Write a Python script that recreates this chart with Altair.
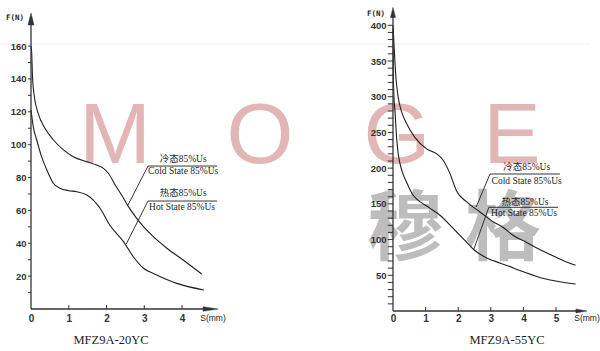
import altair as alt
import pandas as pd

# ---------------- data ----------------
# Left panel: MFZ9A-20YC   (S in mm, F in N)
L_COLD_S = [0.0, 0.02, 0.04, 0.09, 0.19, 0.37, 0.59, 0.86, 1.12, 1.48, 1.74, 1.92, 2.05, 2.23, 2.40, 2.58, 2.80, 2.98, 3.24, 3.60, 4.03, 4.52]
L_COLD_F = [160, 155, 141, 129, 119, 110, 103, 96.8, 92.7, 89.6, 87.6, 85.6, 82.6, 75.5, 69.4, 62.3, 55.2, 50.1, 44.0, 37.0, 29.8, 21.3]
L_HOT_S = [0.0, 0.06, 0.15, 0.28, 0.42, 0.50, 0.59, 0.77, 1.00, 1.21, 1.48, 1.65, 1.83, 2.09, 2.45, 2.71, 2.98, 3.33, 3.86, 4.58]
L_HOT_F = [121, 111, 103, 92.7, 84.6, 80.5, 76.5, 73.5, 72.0, 71.4, 69.4, 66.3, 61.3, 51.0, 41.0, 31.8, 24.8, 20.7, 15.6, 11.6]

# Right panel: MFZ9A-55YC
R_COLD_S = [0.0, 0.04, 0.09, 0.16, 0.27, 0.42, 0.67, 1.03, 1.34, 1.54, 1.75, 1.95, 2.25, 2.66, 3.07, 3.38, 3.68, 4.10, 4.50, 4.92, 5.30, 5.60]
R_COLD_F = [400, 365, 327, 299, 278, 262, 243, 227, 220, 211, 192, 168, 153, 139, 125, 117, 106, 96, 86, 77, 69, 64]
R_HOT_S = [0.0, 0.01, 0.03, 0.06, 0.11, 0.16, 0.27, 0.42, 0.62, 0.72, 1.13, 1.44, 1.84, 2.24, 2.50, 2.80, 3.07, 3.49, 4.00, 4.50, 5.00, 5.60]
R_HOT_F = [395, 330, 300, 281, 243, 220, 197, 180, 162, 157, 144, 134, 116, 97, 85, 76, 70.6, 63.7, 55, 47, 42, 37.7]

L_X_TICKS = [0, 1, 2, 3, 4]
L_Y_LABELS = [20, 40, 60, 80, 100, 120, 140, 160]
L_Y_TICKS = list(range(10, 161, 10))
R_X_TICKS = [0, 1, 2, 3, 4, 5]
R_Y_LABELS = [50, 100, 150, 200, 250, 300, 350, 400]
R_Y_TICKS = list(range(10, 401, 10))

ANNOT_TEXT = ["冷态85%Us", "Cold State 85%Us", "热态85%Us", "Hot State 85%Us"]
L_TEXT_S = [4.03, 4.03, 4.03, 4.00]
L_TEXT_F = [91.3, 83.7, 70.3, 62.1]
R_TEXT_S = [4.10, 4.10, 4.05, 4.02]
R_TEXT_F = [201.2, 182.0, 153.0, 136.8]

# underlines and leader lines (start s, start F, end s, end F)
L_SEG_S1 = [3.10, 3.10, 3.10, 3.10]
L_SEG_F1 = [87.0, 65.7, 87.0, 65.7]
L_SEG_S2 = [4.93, 4.93, 2.56, 2.52]
L_SEG_F2 = [87.0, 65.7, 62.9, 39.4]
R_SEG_S1 = [2.975, 2.94, 2.975, 2.94]
R_SEG_F1 = [191.8, 145.2, 191.8, 145.2]
R_SEG_S2 = [5.12, 5.06, 2.55, 2.47]
R_SEG_F2 = [191.8, 145.2, 145.6, 85.4]

L_TITLE = "MFZ9A-20YC"
R_TITLE = "MFZ9A-55YC"

SERIF = "Liberation Serif, Noto Sans CJK SC"
SANS = "Liberation Sans"
INK = "#1e1e1e"


def one(txt, px, py, **kw):
    return alt.Chart(pd.DataFrame({"t": [txt]})).mark_text(**kw).encode(
        x=alt.value(px), y=alt.value(py), text="t:N")


def panel(w, h, xdom, ydom, cs, cf, hs, hf, ts, tf, s1, f1, s2, f2,
          ylabels, yticks, ytick_s, ylabpad, xvals, xpad, xend, yend, xarr, yarr,
          xarr_size, yarr_size, xarr_path, yarr_path, tick_len, deco, extra):
    xs = alt.Scale(domain=xdom, nice=False, zero=False)
    ys = alt.Scale(domain=ydom, nice=False, zero=False)
    xax = alt.Axis(
        values=xvals, domain=False, ticks=False, tickSize=0, grid=False,
        labelPadding=xpad, labelFlush=False, labelOverlap=False,
        labelFont=SANS, labelFontWeight="bold", labelFontSize=10,
        labelColor="#333", title=None, zindex=1)
    yax = alt.Axis(
        values=ylabels, domain=False, grid=False, ticks=False, tickSize=0,
        labelPadding=ylabpad, labelOverlap=False,
        labelFont=SANS, labelFontWeight="bold", labelFontSize=9.5,
        labelColor="#333", title=None, zindex=1)

    def X(f):
        return alt.X(f, scale=xs, axis=xax, title=None)

    def Y(f):
        return alt.Y(f, scale=ys, axis=yax, title=None)

    curves = pd.DataFrame({
        "s": cs + hs, "F": cf + hf,
        "state": ["cold"] * len(cs) + ["hot"] * len(hs)})
    line = alt.Chart(curves).mark_line(
        interpolate="monotone", color=INK, strokeWidth=1.1).encode(
        x=X("s:Q"), y=Y("F:Q"), detail="state:N")

    seg = pd.DataFrame({"s1": s1, "f1": f1, "s2": s2, "f2": f2})
    leaders = alt.Chart(seg).mark_rule(color=INK, strokeWidth=0.9).encode(
        x=X("s1:Q"), y=Y("f1:Q"), x2="s2", y2="f2")

    ax = pd.DataFrame({"s1": [0, 0], "f1": [0, 0], "s2": [xend, 0], "f2": [0, yend]})
    axes = alt.Chart(ax).mark_rule(color="#333", strokeWidth=1.3).encode(
        x=X("s1:Q"), y=Y("f1:Q"), x2="s2", y2="f2")

    tk = pd.DataFrame({"s": xvals[1:], "f1": [0] * (len(xvals) - 1),
                       "f2": [tick_len] * (len(xvals) - 1)})
    xticks = alt.Chart(tk).mark_rule(color="#333", strokeWidth=1).encode(
        x=X("s:Q"), y=Y("f1:Q"), y2="f2")

    ytk = pd.DataFrame({"F": yticks, "s1": [-ytick_s] * len(yticks), "s2": [0] * len(yticks)})
    ytick_marks = alt.Chart(ytk).mark_rule(color="#333", strokeWidth=1).encode(
        x=X("s1:Q"), x2="s2", y=Y("F:Q"))

    xa = alt.Chart(pd.DataFrame({"s": [xarr], "F": [0]})).mark_point(
        shape=xarr_path, filled=True, fill="#333", stroke="#333", strokeWidth=0.5,
        opacity=1, size=xarr_size).encode(x=X("s:Q"), y=Y("F:Q"))
    ya = alt.Chart(pd.DataFrame({"s": [0], "F": [yarr]})).mark_point(
        shape=yarr_path, filled=True, fill="#333", stroke="#333", strokeWidth=0.5,
        opacity=1, size=yarr_size).encode(x=X("s:Q"), y=Y("F:Q"))

    tx = pd.DataFrame({"s": ts, "F": tf, "t": ANNOT_TEXT})
    texts = alt.Chart(tx).mark_text(
        font=SERIF, fontSize=9.5, color=INK, align="center", baseline="middle").encode(
        x=X("s:Q"), y=Y("F:Q"), text="t:N")

    return alt.layer(*deco, line, axes, xticks, ytick_marks, leaders, xa, ya, texts,
                     *extra).properties(width=w, height=h)


PINK = "#e2b6b6"
left_deco = [
    alt.Chart(pd.DataFrame({"a": [0]})).mark_rule(color="#f0f0f0", strokeWidth=1).encode(
        x=alt.value(-30.5), x2=alt.value(559), y=alt.value(39)),
    one("M", 84, 132, font=SANS, fontSize=86, color=PINK, align="center", baseline="middle"),
    one("O", 229, 132, font=SANS, fontSize=86, color=PINK, align="center", baseline="middle"),
]
left_extra = [
    one("F(N)", -25, 13, font="DejaVu Sans Mono", fontWeight="bold", fontSize=7.5,
        color="#222", align="left", baseline="middle"),
    one("S(mm)", 182, 313, font=SANS, fontSize=8.5, color="#222", align="center", baseline="middle"),
    one(L_TITLE, 80, 335, font="Liberation Serif", fontSize=12.5, color="#222",
        align="center", baseline="middle"),
]
right_deco = [
    one("G", 4, 132, font=SANS, fontSize=86, color=PINK, align="center", baseline="middle"),
    one("E", 119, 132, font=SANS, fontSize=86, color=PINK, align="center", baseline="middle"),
    one("穆", 12, 226, font="Noto Sans CJK SC", fontWeight="bold", fontSize=76,
        color="#bdbdbd", align="center", baseline="middle"),
    one("格", 110, 226, font="Noto Sans CJK SC", fontWeight="bold", fontSize=76,
        color="#bdbdbd", align="center", baseline="middle"),
]
right_extra = [
    one("F(N)", -26, 8.5, font="DejaVu Sans Mono", fontWeight="bold", fontSize=7.5,
        color="#222", align="left", baseline="middle"),
    one("S(mm)", 194, 313, font=SANS, fontSize=8.5, color="#222", align="center", baseline="middle"),
    one(R_TITLE, 114, 335, font="Liberation Serif", fontSize=12.5, color="#222",
        align="center", baseline="middle"),
]

left = panel(190, 304, [0, 5.033], [0, 185.0],
             L_COLD_S, L_COLD_F, L_HOT_S, L_HOT_F, L_TEXT_S, L_TEXT_F,
             L_SEG_S1, L_SEG_F1, L_SEG_S2, L_SEG_F2,
             L_Y_LABELS, L_Y_TICKS, 0.08, 5, L_X_TICKS, 4, 4.8, 177.7, 4.755, 176.5,
             225, 144, "M1,0L-1,-0.3L-1,0.3Z", "M0,-1L-0.5,1L0.5,1Z", 2.4,
             left_deco, left_extra)

right = panel(205, 306, [0, 6.288], [0, 428.4],
              R_COLD_S, R_COLD_F, R_HOT_S, R_HOT_F, R_TEXT_S, R_TEXT_F,
              R_SEG_S1, R_SEG_F1, R_SEG_S2, R_SEG_F2,
              R_Y_LABELS, R_Y_TICKS, 0.16, 7, R_X_TICKS, 2, 5.8, 418, 5.78, 418,
              121, 100, "M1,0L-1,-0.35L-1,0.35Z", "M0,-1L-0.5,1L0.5,1Z", 5.6,
              right_deco, right_extra)

chart = alt.hconcat(left, right, spacing=172, bounds="flush").properties(
    padding={"left": 0, "top": 5, "right": 0, "bottom": 0},
    background="white",
).configure_view(strokeWidth=0)

chart.save("out.html", embed_options={"renderer": "svg", "actions": False})
